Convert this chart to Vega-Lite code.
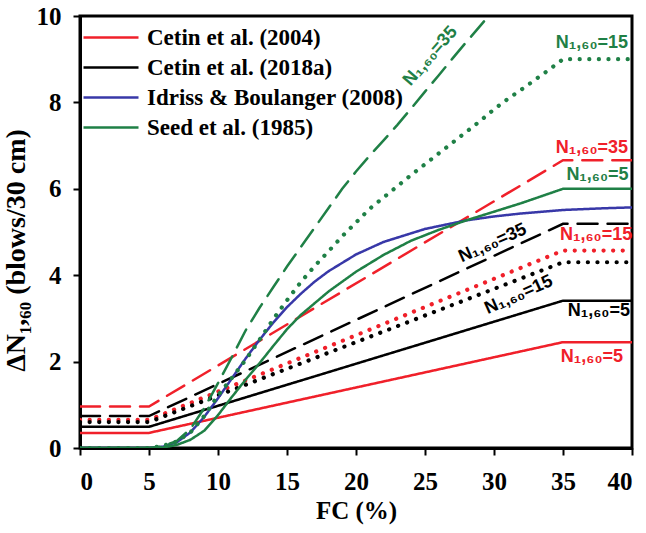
{
  "$schema": "https://vega.github.io/schema/vega-lite/v6.json",
  "width": 552,
  "height": 432,
  "autosize": {"type": "none"},
  "padding": {"left": 80, "top": 16, "right": 14, "bottom": 85},
  "background": "white",
  "config": {
    "view": {"stroke": "black", "strokeWidth": 3},
    "axis": {
      "grid": false,
      "domainColor": "black",
      "domainWidth": 3,
      "tickColor": "black",
      "tickWidth": 2,
      "tickSize": 7,
      "labelFont": "Liberation Serif",
      "labelFontWeight": "bold",
      "labelFontSize": 25,
      "labelColor": "black",
      "titleFont": "Liberation Serif",
      "titleFontWeight": "bold",
      "titleFontSize": 25,
      "titleColor": "black"
    }
  },
  "layer": [
    {
      "data": {
        "values": [
          {"model": "Cetin et al. (2004)", "N": "5", "FC": 0, "dN": 0.35},
          {"model": "Cetin et al. (2004)", "N": "5", "FC": 5, "dN": 0.35},
          {"model": "Cetin et al. (2004)", "N": "5", "FC": 35, "dN": 2.45},
          {"model": "Cetin et al. (2004)", "N": "5", "FC": 40, "dN": 2.45},
          {"model": "Cetin et al. (2004)", "N": "15", "FC": 0, "dN": 0.65},
          {"model": "Cetin et al. (2004)", "N": "15", "FC": 5, "dN": 0.65},
          {"model": "Cetin et al. (2004)", "N": "15", "FC": 35, "dN": 4.57},
          {"model": "Cetin et al. (2004)", "N": "15", "FC": 40, "dN": 4.57},
          {"model": "Cetin et al. (2004)", "N": "35", "FC": 0, "dN": 0.96},
          {"model": "Cetin et al. (2004)", "N": "35", "FC": 5, "dN": 0.96},
          {"model": "Cetin et al. (2004)", "N": "35", "FC": 35, "dN": 6.66},
          {"model": "Cetin et al. (2004)", "N": "35", "FC": 40, "dN": 6.66},
          {"model": "Cetin et al. (2018a)", "N": "5", "FC": 0, "dN": 0.49},
          {"model": "Cetin et al. (2018a)", "N": "5", "FC": 5, "dN": 0.49},
          {"model": "Cetin et al. (2018a)", "N": "5", "FC": 35, "dN": 3.41},
          {"model": "Cetin et al. (2018a)", "N": "5", "FC": 40, "dN": 3.41},
          {"model": "Cetin et al. (2018a)", "N": "15", "FC": 0, "dN": 0.6},
          {"model": "Cetin et al. (2018a)", "N": "15", "FC": 5, "dN": 0.6},
          {"model": "Cetin et al. (2018a)", "N": "15", "FC": 35, "dN": 4.3},
          {"model": "Cetin et al. (2018a)", "N": "15", "FC": 40, "dN": 4.3},
          {"model": "Cetin et al. (2018a)", "N": "35", "FC": 0, "dN": 0.74},
          {"model": "Cetin et al. (2018a)", "N": "35", "FC": 5, "dN": 0.74},
          {"model": "Cetin et al. (2018a)", "N": "35", "FC": 35, "dN": 5.19},
          {"model": "Cetin et al. (2018a)", "N": "35", "FC": 40, "dN": 5.19},
          {"model": "Idriss & Boulanger (2008)", "N": "5", "FC": 0, "dN": 0},
          {"model": "Idriss & Boulanger (2008)", "N": "5", "FC": 5, "dN": 0},
          {"model": "Idriss & Boulanger (2008)", "N": "5", "FC": 6, "dN": 0.03},
          {"model": "Idriss & Boulanger (2008)", "N": "5", "FC": 7, "dN": 0.13},
          {"model": "Idriss & Boulanger (2008)", "N": "5", "FC": 8, "dN": 0.36},
          {"model": "Idriss & Boulanger (2008)", "N": "5", "FC": 9, "dN": 0.72},
          {"model": "Idriss & Boulanger (2008)", "N": "5", "FC": 10, "dN": 1.15},
          {"model": "Idriss & Boulanger (2008)", "N": "5", "FC": 11, "dN": 1.61},
          {"model": "Idriss & Boulanger (2008)", "N": "5", "FC": 12, "dN": 2.07},
          {"model": "Idriss & Boulanger (2008)", "N": "5", "FC": 13, "dN": 2.5},
          {"model": "Idriss & Boulanger (2008)", "N": "5", "FC": 14, "dN": 2.9},
          {"model": "Idriss & Boulanger (2008)", "N": "5", "FC": 15, "dN": 3.26},
          {"model": "Idriss & Boulanger (2008)", "N": "5", "FC": 16, "dN": 3.57},
          {"model": "Idriss & Boulanger (2008)", "N": "5", "FC": 17, "dN": 3.85},
          {"model": "Idriss & Boulanger (2008)", "N": "5", "FC": 18, "dN": 4.09},
          {"model": "Idriss & Boulanger (2008)", "N": "5", "FC": 20, "dN": 4.48},
          {"model": "Idriss & Boulanger (2008)", "N": "5", "FC": 22, "dN": 4.77},
          {"model": "Idriss & Boulanger (2008)", "N": "5", "FC": 25, "dN": 5.07},
          {"model": "Idriss & Boulanger (2008)", "N": "5", "FC": 28, "dN": 5.27},
          {"model": "Idriss & Boulanger (2008)", "N": "5", "FC": 30, "dN": 5.36},
          {"model": "Idriss & Boulanger (2008)", "N": "5", "FC": 32, "dN": 5.43},
          {"model": "Idriss & Boulanger (2008)", "N": "5", "FC": 35, "dN": 5.51},
          {"model": "Idriss & Boulanger (2008)", "N": "5", "FC": 38, "dN": 5.55},
          {"model": "Idriss & Boulanger (2008)", "N": "5", "FC": 40, "dN": 5.57},
          {"model": "Seed et al. (1985)", "N": "5", "FC": 0, "dN": 0},
          {"model": "Seed et al. (1985)", "N": "5", "FC": 5, "dN": 0},
          {"model": "Seed et al. (1985)", "N": "5", "FC": 6, "dN": 0.01},
          {"model": "Seed et al. (1985)", "N": "5", "FC": 7, "dN": 0.07},
          {"model": "Seed et al. (1985)", "N": "5", "FC": 8, "dN": 0.19},
          {"model": "Seed et al. (1985)", "N": "5", "FC": 9, "dN": 0.4},
          {"model": "Seed et al. (1985)", "N": "5", "FC": 10, "dN": 0.76},
          {"model": "Seed et al. (1985)", "N": "5", "FC": 11, "dN": 1.18},
          {"model": "Seed et al. (1985)", "N": "5", "FC": 12, "dN": 1.58},
          {"model": "Seed et al. (1985)", "N": "5", "FC": 13, "dN": 1.96},
          {"model": "Seed et al. (1985)", "N": "5", "FC": 14, "dN": 2.36},
          {"model": "Seed et al. (1985)", "N": "5", "FC": 15, "dN": 2.75},
          {"model": "Seed et al. (1985)", "N": "5", "FC": 16, "dN": 3.08},
          {"model": "Seed et al. (1985)", "N": "5", "FC": 18, "dN": 3.62},
          {"model": "Seed et al. (1985)", "N": "5", "FC": 20, "dN": 4.08},
          {"model": "Seed et al. (1985)", "N": "5", "FC": 22, "dN": 4.47},
          {"model": "Seed et al. (1985)", "N": "5", "FC": 24, "dN": 4.8},
          {"model": "Seed et al. (1985)", "N": "5", "FC": 26, "dN": 5.05},
          {"model": "Seed et al. (1985)", "N": "5", "FC": 28, "dN": 5.27},
          {"model": "Seed et al. (1985)", "N": "5", "FC": 30, "dN": 5.47},
          {"model": "Seed et al. (1985)", "N": "5", "FC": 32, "dN": 5.67},
          {"model": "Seed et al. (1985)", "N": "5", "FC": 35, "dN": 6.0},
          {"model": "Seed et al. (1985)", "N": "5", "FC": 40, "dN": 6.0},
          {"model": "Seed et al. (1985)", "N": "15", "FC": 0, "dN": 0},
          {"model": "Seed et al. (1985)", "N": "15", "FC": 5, "dN": 0},
          {"model": "Seed et al. (1985)", "N": "15", "FC": 6, "dN": 0.05},
          {"model": "Seed et al. (1985)", "N": "15", "FC": 7, "dN": 0.15},
          {"model": "Seed et al. (1985)", "N": "15", "FC": 8, "dN": 0.36},
          {"model": "Seed et al. (1985)", "N": "15", "FC": 9, "dN": 0.74},
          {"model": "Seed et al. (1985)", "N": "15", "FC": 10, "dN": 1.22},
          {"model": "Seed et al. (1985)", "N": "15", "FC": 11, "dN": 1.62},
          {"model": "Seed et al. (1985)", "N": "15", "FC": 12, "dN": 2.04},
          {"model": "Seed et al. (1985)", "N": "15", "FC": 13, "dN": 2.5},
          {"model": "Seed et al. (1985)", "N": "15", "FC": 14, "dN": 2.98},
          {"model": "Seed et al. (1985)", "N": "15", "FC": 15, "dN": 3.42},
          {"model": "Seed et al. (1985)", "N": "15", "FC": 16, "dN": 3.84},
          {"model": "Seed et al. (1985)", "N": "15", "FC": 17, "dN": 4.21},
          {"model": "Seed et al. (1985)", "N": "15", "FC": 18, "dN": 4.55},
          {"model": "Seed et al. (1985)", "N": "15", "FC": 19, "dN": 4.9},
          {"model": "Seed et al. (1985)", "N": "15", "FC": 20, "dN": 5.22},
          {"model": "Seed et al. (1985)", "N": "15", "FC": 21, "dN": 5.54},
          {"model": "Seed et al. (1985)", "N": "15", "FC": 22, "dN": 5.8},
          {"model": "Seed et al. (1985)", "N": "15", "FC": 23, "dN": 6.06},
          {"model": "Seed et al. (1985)", "N": "15", "FC": 24, "dN": 6.32},
          {"model": "Seed et al. (1985)", "N": "15", "FC": 25, "dN": 6.57},
          {"model": "Seed et al. (1985)", "N": "15", "FC": 26, "dN": 6.82},
          {"model": "Seed et al. (1985)", "N": "15", "FC": 27, "dN": 7.07},
          {"model": "Seed et al. (1985)", "N": "15", "FC": 28, "dN": 7.32},
          {"model": "Seed et al. (1985)", "N": "15", "FC": 29, "dN": 7.57},
          {"model": "Seed et al. (1985)", "N": "15", "FC": 30, "dN": 7.84},
          {"model": "Seed et al. (1985)", "N": "15", "FC": 31, "dN": 8.08},
          {"model": "Seed et al. (1985)", "N": "15", "FC": 32, "dN": 8.3},
          {"model": "Seed et al. (1985)", "N": "15", "FC": 33, "dN": 8.53},
          {"model": "Seed et al. (1985)", "N": "15", "FC": 34, "dN": 8.76},
          {"model": "Seed et al. (1985)", "N": "15", "FC": 35, "dN": 9.0},
          {"model": "Seed et al. (1985)", "N": "15", "FC": 40, "dN": 9.0},
          {"model": "Seed et al. (1985)", "N": "35", "FC": 0, "dN": 0},
          {"model": "Seed et al. (1985)", "N": "35", "FC": 5, "dN": 0},
          {"model": "Seed et al. (1985)", "N": "35", "FC": 6, "dN": 0.04},
          {"model": "Seed et al. (1985)", "N": "35", "FC": 7, "dN": 0.16},
          {"model": "Seed et al. (1985)", "N": "35", "FC": 8, "dN": 0.44},
          {"model": "Seed et al. (1985)", "N": "35", "FC": 9, "dN": 0.92},
          {"model": "Seed et al. (1985)", "N": "35", "FC": 10, "dN": 1.5},
          {"model": "Seed et al. (1985)", "N": "35", "FC": 11, "dN": 2.1},
          {"model": "Seed et al. (1985)", "N": "35", "FC": 12, "dN": 2.72},
          {"model": "Seed et al. (1985)", "N": "35", "FC": 13, "dN": 3.24},
          {"model": "Seed et al. (1985)", "N": "35", "FC": 14, "dN": 3.72},
          {"model": "Seed et al. (1985)", "N": "35", "FC": 15, "dN": 4.2},
          {"model": "Seed et al. (1985)", "N": "35", "FC": 16, "dN": 4.65},
          {"model": "Seed et al. (1985)", "N": "35", "FC": 17, "dN": 5.1},
          {"model": "Seed et al. (1985)", "N": "35", "FC": 18, "dN": 5.55},
          {"model": "Seed et al. (1985)", "N": "35", "FC": 19, "dN": 6.0},
          {"model": "Seed et al. (1985)", "N": "35", "FC": 20, "dN": 6.4},
          {"model": "Seed et al. (1985)", "N": "35", "FC": 21, "dN": 6.77},
          {"model": "Seed et al. (1985)", "N": "35", "FC": 22, "dN": 7.12},
          {"model": "Seed et al. (1985)", "N": "35", "FC": 23, "dN": 7.48},
          {"model": "Seed et al. (1985)", "N": "35", "FC": 24, "dN": 7.86},
          {"model": "Seed et al. (1985)", "N": "35", "FC": 25, "dN": 8.25},
          {"model": "Seed et al. (1985)", "N": "35", "FC": 26, "dN": 8.63},
          {"model": "Seed et al. (1985)", "N": "35", "FC": 27, "dN": 9.02},
          {"model": "Seed et al. (1985)", "N": "35", "FC": 28, "dN": 9.4},
          {"model": "Seed et al. (1985)", "N": "35", "FC": 29, "dN": 9.77},
          {"model": "Seed et al. (1985)", "N": "35", "FC": 29.6, "dN": 10.0}
        ]
      },
      "mark": {"type": "line", "strokeCap": "round", "clip": true},
      "encoding": {
        "x": {
          "field": "FC", "type": "quantitative",
          "scale": {"domain": [0, 40], "nice": false},
          "axis": {"values": [0, 5, 10, 15, 20, 25, 30, 35, 40], "labelPadding": 14, "titlePadding": 4},
          "title": "FC (%)"
        },
        "y": {
          "field": "dN", "type": "quantitative",
          "scale": {"domain": [0, 10], "nice": false},
          "axis": {"values": [0, 2, 4, 6, 8, 10], "labelPadding": 12, "titlePadding": 6, "titleFontSize": 28, "titleY": 234},
          "title": "ΔN₁,₆₀  (blows/30 cm)"
        },
        "color": {
          "field": "model", "type": "nominal",
          "scale": {
            "domain": ["Cetin et al. (2004)", "Cetin et al. (2018a)", "Idriss & Boulanger (2008)", "Seed et al. (1985)"],
            "range": ["#f0202a", "#000000", "#3838a8", "#1f8046"]
          },
          "legend": {
            "title": null,
            "orient": "none",
            "legendX": 2,
            "legendY": 10,
            "padding": 0,
            "symbolType": "M-1,0H4.5",
            "symbolSize": 400,
            "symbolStrokeWidth": 2.5,
            "labelFont": "Liberation Serif",
            "labelFontWeight": "bold",
            "labelFontSize": 23,
            "labelColor": "black",
            "labelOffset": 42,
            "labelLimit": 400,
            "rowPadding": 6
          }
        },
        "strokeDash": {
          "field": "N", "type": "nominal",
          "scale": {"domain": ["5", "15", "35"], "range": [[1, 0], [0.1, 9.5], [20, 10]]},
          "legend": null
        },
        "strokeWidth": {
          "field": "N", "type": "nominal",
          "scale": {"type": "ordinal", "domain": ["5", "15", "35"], "range": [2.5, 4.2, 2.5]},
          "legend": null
        }
      }
    },
    {
      "data": {"values": [
        {"FC": 37.1, "dN": 6.94, "t": "N₁,₆₀=35"},
        {"FC": 37.4, "dN": 4.93, "t": "N₁,₆₀=15"},
        {"FC": 37.1, "dN": 2.11, "t": "N₁,₆₀=5"}
      ]},
      "mark": {"type": "text", "font": "Liberation Sans", "fontWeight": "bold", "fontSize": 18, "color": "#f0202a", "align": "center", "baseline": "middle"},
      "encoding": {
        "x": {"field": "FC", "type": "quantitative"},
        "y": {"field": "dN", "type": "quantitative"},
        "text": {"field": "t"}
      }
    },
    {
      "data": {"values": [
        {"FC": 37.1, "dN": 9.37, "t": "N₁,₆₀=15"},
        {"FC": 37.5, "dN": 6.32, "t": "N₁,₆₀=5"}
      ]},
      "mark": {"type": "text", "font": "Liberation Sans", "fontWeight": "bold", "fontSize": 18, "color": "#1f8046", "align": "center", "baseline": "middle"},
      "encoding": {
        "x": {"field": "FC", "type": "quantitative"},
        "y": {"field": "dN", "type": "quantitative"},
        "text": {"field": "t"}
      }
    },
    {
      "data": {"values": [
        {"FC": 37.6, "dN": 3.16, "t": "N₁,₆₀=5"}
      ]},
      "mark": {"type": "text", "font": "Liberation Sans", "fontWeight": "bold", "fontSize": 18, "color": "black", "align": "center", "baseline": "middle"},
      "encoding": {
        "x": {"field": "FC", "type": "quantitative"},
        "y": {"field": "dN", "type": "quantitative"},
        "text": {"field": "t"}
      }
    },
    {
      "data": {"values": [
        {"FC": 25.4, "dN": 9.07, "t": "N₁,₆₀=35"}
      ]},
      "mark": {"type": "text", "font": "Liberation Sans", "fontWeight": "bold", "fontSize": 18, "color": "#1f8046", "align": "center", "baseline": "middle", "angle": -49},
      "encoding": {
        "x": {"field": "FC", "type": "quantitative"},
        "y": {"field": "dN", "type": "quantitative"},
        "text": {"field": "t"}
      }
    },
    {
      "data": {"values": [
        {"FC": 29.9, "dN": 4.74, "t": "N₁,₆₀=35"},
        {"FC": 31.8, "dN": 3.54, "t": "N₁,₆₀=15"}
      ]},
      "mark": {"type": "text", "font": "Liberation Sans", "fontWeight": "bold", "fontSize": 18, "color": "black", "align": "center", "baseline": "middle", "angle": -24},
      "encoding": {
        "x": {"field": "FC", "type": "quantitative"},
        "y": {"field": "dN", "type": "quantitative"},
        "text": {"field": "t"}
      }
    }
  ]
}
